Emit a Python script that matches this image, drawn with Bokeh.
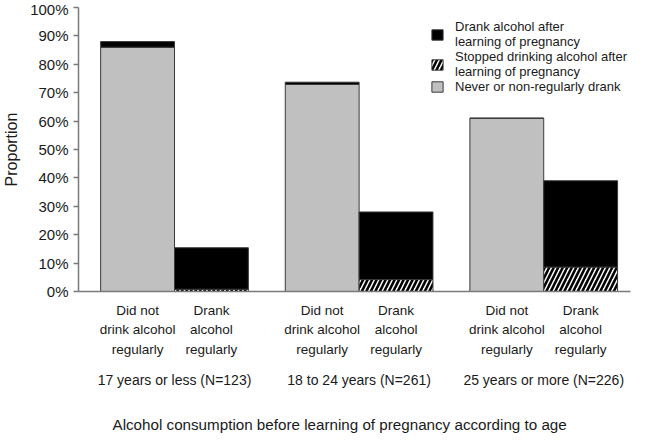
from bokeh.plotting import figure
from bokeh.models import (Range1d, LinearAxis, FixedTicker, PrintfTickFormatter,
                          Legend, LegendItem, Title, ColumnDataSource)
from bokeh.embed import file_html
from bokeh.resources import INLINE

groups = ["17 years or less (N=123)", "18 to 24 years (N=261)", "25 years or more (N=226)"]
bar_labels = ["Did not\ndrink alcohol\nregularly", "Drank\nalcohol\nregularly"]
legend_labels = ["Drank alcohol after\nlearning of pregnancy",
                 "Stopped drinking alcohol after\nlearning of pregnancy",
                 "Never or non-regularly drank"]
never_drank = [86.0, 72.9, 61.0]          # "Did not drink regularly" bars, grey part
nonreg_drank_after = [2.0, 0.8, 0.0]      # "Did not drink regularly" bars, black cap
stopped = [0.8, 4.2, 8.6]                 # "Drank regularly" bars, hatched part
reg_drank_after = [14.6, 23.8, 30.4]      # "Drank regularly" bars, black part
y_ticks = list(range(0, 101, 10))

FONT = "Liberation Sans"
BAR_W = 0.4
gx = list(range(len(groups)))
left_x = [g - BAR_W / 2 for g in gx]
right_x = [g + BAR_W / 2 for g in gx]

src_left = ColumnDataSource(dict(
    x=left_x, never=never_drank,
    cap=[a + b for a, b in zip(never_drank, nonreg_drank_after)]))
src_right = ColumnDataSource(dict(
    x=right_x, stopped=stopped,
    top=[a + b for a, b in zip(stopped, reg_drank_after)]))

p = figure(frame_width=552, frame_height=284,
           x_range=Range1d(-0.52, 2.47), y_range=Range1d(0, 100),
           output_backend="svg", toolbar_location=None,
           min_border_left=78, min_border_right=1, min_border_top=7, min_border_bottom=0,
           x_axis_type=None)
p.outline_line_color = None
p.grid.visible = False
p.background_fill_color = "white"

edge = "#3a3a3a"
r_grey = p.vbar(x="x", width=BAR_W, bottom=0, top="never", source=src_left,
                fill_color="#c0c0c0", line_color=edge, line_width=1)
r_cap = p.vbar(x="x", width=BAR_W, bottom="never", top="cap", source=src_left,
               fill_color="black", line_color=edge, line_width=1)
r_hatch = p.vbar(x="x", width=BAR_W, bottom=0, top="stopped", source=src_right,
                 fill_color="white", line_color=edge, line_width=1,
                 hatch_pattern="right_diagonal_line", hatch_color="black",
                 hatch_scale=9, hatch_weight=2.6)
r_black = p.vbar(x="x", width=BAR_W, bottom="stopped", top="top", source=src_right,
                 fill_color="black", line_color=edge, line_width=1)

# y axis
ya = p.yaxis[0]
ya.ticker = FixedTicker(ticks=y_ticks)
ya.formatter = PrintfTickFormatter(format="%d%%")
ya.major_tick_out = 5
ya.major_tick_in = 0
ya.minor_tick_line_color = None
ya.axis_line_color = "#7a7a7a"
ya.axis_line_width = 1.5
ya.major_tick_line_color = "#7a7a7a"
ya.major_tick_line_width = 1.5
ya.major_label_standoff = 5
ya.major_label_text_font = FONT
ya.major_label_text_font_size = "15px"
ya.major_label_text_color = "#1a1a1a"
ya.axis_label = "Proportion"
ya.axis_label_text_font = FONT
ya.axis_label_text_font_size = "16px"
ya.axis_label_text_font_style = "normal"
ya.axis_label_text_color = "#1a1a1a"
ya.axis_label_standoff = 7

# x axis: bar labels
bar_ticks = left_x + right_x
bar_over = {}
for x in left_x:
    bar_over[x] = bar_labels[0]
for x in right_x:
    bar_over[x] = bar_labels[1]
xa = LinearAxis(ticker=FixedTicker(ticks=bar_ticks), major_label_overrides=bar_over)
xa.axis_line_color = "#7a7a7a"
xa.axis_line_width = 1.5
xa.major_tick_out = 0
xa.major_tick_in = 0
xa.minor_tick_line_color = None
xa.major_label_standoff = 11
xa.major_label_text_font = FONT
xa.major_label_text_font_size = "13.5px"
xa.major_label_text_line_height = 1.3
xa.major_label_text_color = "#1a1a1a"
p.add_layout(xa, "below")

# x axis: group labels
ga = LinearAxis(ticker=FixedTicker(ticks=gx),
                major_label_overrides={g: groups[g] for g in gx})
ga.axis_line_color = None
ga.major_tick_out = 0
ga.major_tick_in = 0
ga.minor_tick_line_color = None
ga.major_label_standoff = 12
ga.major_label_text_font = FONT
ga.major_label_text_font_size = "14px"
ga.major_label_text_color = "#1a1a1a"
p.add_layout(ga, "below")

title = Title(text="Alcohol consumption before learning of pregnancy according to age",
              align="left", offset=34, standoff=46,
              text_font=FONT, text_font_size="15.2px", text_font_style="normal",
              text_color="#1a1a1a")
p.add_layout(title, "below")

legend = Legend(items=[
    LegendItem(label=legend_labels[0], renderers=[r_black]),
    LegendItem(label=legend_labels[1], renderers=[r_hatch]),
    LegendItem(label=legend_labels[2], renderers=[r_grey]),
], location=(352, 197))
legend.border_line_color = None
legend.background_fill_alpha = 0
legend.padding = 0
legend.margin = 0
legend.spacing = 0
legend.glyph_width = 14
legend.glyph_height = 13
legend.label_standoff = 11
legend.label_text_font = FONT
legend.label_text_font_size = "13px"
legend.label_text_color = "#1a1a1a"
legend.label_text_line_height = 1.2
p.add_layout(legend, "center")

open("out.html", "w").write(file_html(p, INLINE))
